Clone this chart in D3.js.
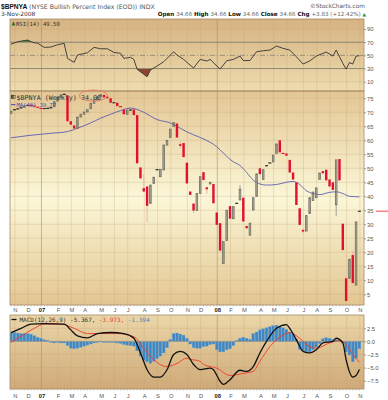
<!DOCTYPE html>
<html>
<head>
<meta charset="utf-8">
<script src="https://cdn.jsdelivr.net/npm/d3@7/dist/d3.min.js"></script>
<style>
  body { margin: 0; background: #fff; }
  svg { display: block; }
</style>
</head>
<body>
<script>

// weekly bars, mondays from 30-Oct-2006 to 3-Nov-2008
var weeks = d3.timeMonday.range(new Date(2006, 9, 30), new Date(2008, 10, 4));

var opens = [69.6,70.8,71.0,71.4,71.8,72.3,72.6,72.4,72.0,71.6,
  71.2,71.4,71.4,72.0,74.0,75.4,76.2,76.0,66.8,65.3,
  64.2,68.3,69.3,70.1,71.3,73.2,74.4,75.6,76.2,75.6,
  75.0,73.4,73.4,72.0,71.0,69.3,70.8,71.0,69.0,50.3,
  42.9,43.5,37.5,44.6,49.5,47.0,49.4,58.3,61.0,64.9,
  66.0,58.6,59.0,52.0,41.7,37.4,34.9,41.0,48.6,43.2,
  44.4,44.4,34.2,30.4,16.0,24.2,36.5,32.0,37.4,38.7,
  39.5,29.4,26.1,35.1,40.0,50.0,46.0,50.8,51.8,52.3,
  55.3,60.0,55.2,55.3,53.0,48.5,45.0,35.7,28.0,27.6,
  33.9,38.5,39.5,46.0,49.0,49.5,46.0,45.0,37.0,53.3,
  30.2,10.7,10.7,19.0,8.3,34.66];
var highs = [70.4,71.0,71.6,72.0,72.4,72.8,72.6,72.4,72.0,71.6,
  71.4,71.5,72.0,74.0,75.6,76.4,76.8,76.0,66.8,65.3,
  68.3,69.3,70.1,70.9,73.2,74.4,75.6,76.3,76.2,75.6,
  75.0,73.6,73.4,72.2,71.0,70.8,71.0,71.0,69.0,50.3,
  47.8,43.5,44.0,46.8,49.7,49.6,58.3,59.9,64.0,66.3,
  66.0,59.2,59.0,52.0,41.7,37.4,41.0,47.0,48.6,43.2,
  45.0,44.4,34.2,30.4,23.8,35.0,36.5,36.3,37.6,44.0,
  39.5,29.4,30.4,39.5,48.0,50.0,49.5,51.0,52.0,54.7,
  58.7,60.0,55.4,55.3,53.0,48.5,45.0,35.7,28.4,33.1,
  39.5,41.5,43.0,48.3,49.0,49.5,46.0,45.0,53.0,53.3,
  30.2,10.7,17.5,20.5,31.0,34.66];
var lows = [69.6,70.6,71.0,71.4,71.8,72.3,72.2,71.8,71.6,70.0,
  71.2,71.4,71.4,72.0,74.0,75.4,76.2,66.8,65.4,63.4,
  64.2,68.3,69.3,70.1,71.3,73.2,74.4,75.6,75.3,75.0,
  73.4,73.4,72.2,72.0,69.3,69.3,70.6,69.0,51.8,46.4,
  41.7,30.8,37.5,44.6,49.3,47.0,49.4,58.3,61.0,64.9,
  61.0,57.4,54.0,44.6,40.5,34.0,34.9,41.0,45.8,41.0,
  44.4,37.5,29.8,20.6,16.0,24.2,32.0,32.0,37.4,38.7,
  31.0,28.4,26.1,35.1,40.0,47.9,46.0,50.8,51.8,52.3,
  55.3,55.7,55.2,54.5,48.5,46.0,36.9,29.8,26.8,27.6,
  33.9,38.5,39.5,46.0,48.2,45.7,43.5,42.3,33.0,45.7,
  20.8,2.6,10.7,9.0,8.3,34.66];
var closes = [70.4,71.0,71.4,71.8,72.3,72.6,72.4,72.0,71.6,71.2,
  71.4,71.4,71.8,73.8,75.4,76.2,76.6,66.8,65.6,64.2,
  68.3,69.3,70.1,70.9,73.2,74.4,75.6,76.3,75.3,75.0,
  73.4,73.4,72.2,72.0,69.3,70.8,70.8,69.0,51.8,46.4,
  41.7,36.6,44.0,46.8,49.5,49.6,58.3,59.9,64.0,66.3,
  61.0,58.0,54.0,44.6,40.5,34.9,41.0,47.0,45.8,42.5,
  45.0,37.5,29.8,20.6,23.8,35.0,32.0,36.3,37.6,42.5,
  31.0,28.6,30.4,39.5,48.0,47.9,49.5,51.0,52.0,54.7,
  58.7,55.7,55.4,54.5,48.5,46.0,36.9,29.8,27.4,33.1,
  39.5,41.5,43.0,48.3,48.2,45.7,43.5,42.3,53.0,45.7,
  20.8,2.6,17.5,9.0,30.83,34.66];

// MA(40)
var maWeek  = [0,6,12,17,20,24,27,30,33,36,38,40,44,48,51,53,57,60,62,64,67,69,71,73,75,77,80,83,85,87,89,91,93,96,98,100,102,105];
var maValue = [60.9,61.8,62.5,63.1,64.3,66.2,67.9,69.3,70.6,71.5,71.0,70.0,67.4,66.2,64.3,63.0,61.0,59.3,57.7,55.4,52.3,51.0,48.5,45.8,44.4,44.0,44.2,45.0,45.3,44.2,42.0,41.0,40.6,41.4,41.6,41.0,40.0,39.8];

// RSI(14)
var rsiWeek  = [0,2,4,5,6,7,8,10,12,14,16,17,19,20,23,25,27,29,31,33,34,36,37,38,41,42,44,46,49,50,52,55,57,59,60,63,65,67,69,70,72,74,76,78,80,82,84,86,88,90,92,94,95,97,98,99,100,101,102,103,104,105];
var rsiValue = [67.1,70.6,72.5,73.2,70.8,69.1,68.6,62.1,62.6,66.1,68.2,45.4,39.4,50.5,54,62.1,60,60,54.5,53,45.4,47,43.9,28.8,17.6,27.7,33.8,40.3,55.5,50.5,43.9,30.8,43.9,41.4,43.9,29.2,41.8,43.9,48.9,42.1,42.1,55.5,57,58,64.1,60.6,58,47.9,36.8,41.4,48.9,53,55,48.9,58,47.9,37.9,29.2,39,36.8,48.9,49.5];

// MACD(12,26,9)
var macdWeek  = [0,3,6,10,16,18,20,23,26,30,34,37,39,41,43,45,47,49,51,53,55,57,60,61,63,64,66,69,71,73,75,77,80,83,84,86,88,90,92,94,97,98,100,101,103,104,105];
var macdValue = [1.66,2.5,3.3,3.4,3.3,2.2,1.04,0.66,1.5,1.7,1.5,0.6,-2.2,-5.4,-6.8,-6.8,-5.4,-2.5,-1.9,-2.5,-4.4,-5.4,-5.1,-5.4,-7.6,-8.2,-7.3,-5.5,-5.7,-4.8,-2.2,0,2.5,3.2,2.5,0.3,-1.9,-2.2,-1.6,-0.3,0,0.6,-0.3,-3.5,-6.8,-6.5,-5.37];
var signalWeek  = [0,3,7,10,15,19,23,27,32,37,40,43,47,50,53,54,57,58,62,66,70,73,75,78,82,84,87,90,92,96,99,101,103,105];
var signalValue = [-0.2,1.0,2.5,3.3,3.3,2.5,1.5,1.5,1.5,0.9,-1.3,-3.5,-4.8,-4.2,-3.2,-3.4,-3.8,-4.4,-5.1,-6.5,-6.1,-5.7,-3.8,-1.0,1.2,1.7,0.6,-1.0,-1.3,-0.3,0.15,-0.6,-2.5,-3.97];
var histValue = [1.7,1.7,1.6,1.5,1.5,1.5,1.4,1.1,0.8,0.6,
  0.3,0.2,-0.2,-0.3,-0.2,-0.3,-0.3,-0.8,-1.3,-1.4,
  -1.3,-1.1,-0.9,-0.7,-0.5,-0.3,-0.2,-0.1,-0.2,-0.2,
  -0.2,-0.2,-0.3,-0.4,-0.6,-0.7,-0.8,-0.9,-1.8,-2.8,
  -3.6,-3.9,-4.2,-3.8,-3.3,-2.8,-2.2,-1.2,0.4,1.5,
  1.6,1.4,1.2,0.6,-0.5,-1.2,-1.3,-1.3,-1.0,-0.9,
  -0.6,-0.5,-1.6,-2.0,-2.0,-1.6,-1.4,-0.8,0.2,0.6,
  0.8,0.6,0.4,1.5,1.8,2.2,2.4,2.6,2.8,3.0,
  3.1,2.9,2.6,2.3,1.8,1.4,0.5,-1.5,-1.8,-2.0,
  -2.0,-1.6,-1.1,-0.4,0.5,0.7,0.6,0.4,0.3,0.2,
  -0.3,-2.0,-2.6,-3.9,-3.2,-1.4];

var rsiTicks = [90,70,50,30,10];
var priceTicks = [75,70,65,60,55,50,45,40,35,30,25,20,15,10,5];
var macdTicks = [2.5,0,-2.5,-5,-7.5];
var lastPrice = 34.66;

var width = 388, height = 400;
var left = 10, right = 364;
var rsiTop = 19, rsiBottom = 91, priceTop = 91, priceBottom = 305, macdTop = 315, macdBottom = 389;

var red = "#e0102e";
var sans = "'Liberation Sans', Arial, sans-serif";
var mono = "'DejaVu Sans Mono', monospace";

var x = d3.scaleLinear().domain([0, 105]).range([11.1, 359.4]);
var yR = d3.scaleLinear().domain([-4.1, 105.2]).range([rsiBottom, rsiTop]);
var yP = d3.scaleLinear().domain([1.18, 77.6]).range([priceBottom, priceTop]);
var yM = d3.scaleLinear().domain([-9.08, 5.04]).range([macdBottom, macdTop]);

// first bar of each month
var monthIdx = d3.range(1, weeks.length).filter(function(i){
  return weeks[i].getMonth() != weeks[i-1].getMonth();
});

var svg = d3.select("body").append("svg")
  .attr("width", width).attr("height", height)
  .style("font-family", "'DejaVu Sans', Verdana, sans-serif");

var defs = svg.append("defs");
function grad(id, stops){
  var g = defs.append("linearGradient").attr("id", id)
    .attr("x1", 0).attr("y1", 0).attr("x2", 0).attr("y2", 1);
  stops.forEach(function(s){ g.append("stop").attr("offset", s[0]).attr("stop-color", s[1]); });
}
grad("gRsi", [[0,"#d6b382"],[1,"#eedcae"]]);
grad("gPrice", [[0,"#e3c693"],[0.5,"#fbf7d8"],[1,"#e3c691"]]);
grad("gMacd", [[0,"#ebd6a8"],[1,"#cfaa78"]]);

function clip(id, y0, y1){
  defs.append("clipPath").attr("id", id).append("rect")
    .attr("x", left).attr("y", y0).attr("width", right - left).attr("height", y1 - y0);
}
clip("cRsi", rsiTop, rsiBottom);
clip("cPrice", priceTop, priceBottom);
clip("cMacd", macdTop, macdBottom);
clip("cRsiHi", rsiTop, yR(70));
clip("cRsiLo", yR(30), rsiBottom);

function panel(top, bottom, gradId, yScale, ticks, gridTicks, fmt){
  var g = svg.append("g");
  g.append("rect").attr("x", left).attr("y", top)
    .attr("width", right - left).attr("height", bottom - top)
    .attr("fill", "url(#" + gradId + ")");
  g.selectAll(".hg").data(gridTicks).enter().append("line")
    .attr("x1", left).attr("x2", right)
    .attr("y1", function(d){ return yScale(d); }).attr("y2", function(d){ return yScale(d); })
    .attr("stroke", "#c2a374").attr("stroke-opacity", 0.4).attr("stroke-width", 0.7);
  g.selectAll(".vg").data(monthIdx).enter().append("line")
    .attr("x1", function(d){ return x(d) + 0.5; }).attr("x2", function(d){ return x(d) + 0.5; })
    .attr("y1", top).attr("y2", bottom)
    .attr("stroke", function(d){ return weeks[d].getMonth() == 0 ? "#a88a5e" : "#c2a374"; })
    .attr("stroke-opacity", function(d){ return weeks[d].getMonth() == 0 ? 0.8 : 0.4; })
    .attr("stroke-width", 0.7);

  var ax = svg.append("g").attr("transform", "translate(" + right + ",0)")
    .call(d3.axisRight(yScale).tickValues(ticks).tickSize(2).tickFormat(fmt));
  ax.select(".domain").remove();
  ax.selectAll("line").attr("stroke", "#999");
  ax.selectAll("text").attr("x", 3).attr("fill", "#555")
    .style("font-size", "5.8px").style("font-family", sans);
  return g;
}

panel(rsiTop, rsiBottom, "gRsi", yR, rsiTicks, [90, 10], d3.format("d"));
panel(priceTop, priceBottom, "gPrice", yP, priceTicks, priceTicks, d3.format("d"));
panel(macdTop, macdBottom, "gMacd", yM, macdTicks, [2.5, -2.5, -5, -7.5], d3.format(".1f"));

// ---------- RSI ----------
var rsiPts = rsiWeek.map(function(w, k){ return [w, rsiValue[k]]; });
var rsiG = svg.append("g").attr("clip-path", "url(#cRsi)");
rsiG.append("path").datum(rsiPts).attr("clip-path", "url(#cRsiHi)")
  .attr("fill", "#4b7a2e")
  .attr("d", d3.area().x(function(d){ return x(d[0]); }).y0(yR(70)).y1(function(d){ return yR(d[1]); }));
rsiG.append("path").datum(rsiPts).attr("clip-path", "url(#cRsiLo)")
  .attr("fill", "#8c4430")
  .attr("d", d3.area().x(function(d){ return x(d[0]); }).y0(yR(30)).y1(function(d){ return yR(d[1]); }));
[70, 30].forEach(function(v){
  rsiG.append("line").attr("x1", left).attr("x2", right).attr("y1", yR(v)).attr("y2", yR(v))
    .attr("stroke", "#8a8374").attr("stroke-width", 0.9);
});
rsiG.append("line").attr("x1", left).attr("x2", right).attr("y1", yR(50)).attr("y2", yR(50))
  .attr("stroke", "#8a8374").attr("stroke-width", 0.8).attr("stroke-dasharray", "5,2,1,2");
rsiG.append("path").datum(rsiPts).attr("fill", "none")
  .attr("stroke", "#333").attr("stroke-width", 0.9)
  .attr("d", d3.line().x(function(d){ return x(d[0]); }).y(function(d){ return yR(d[1]); }));

// ---------- price ----------
var bw = 2.4;
var candles = d3.range(weeks.length).map(function(i){
  return {i: i, o: opens[i], h: highs[i], l: lows[i], c: closes[i], pc: i ? closes[i-1] : opens[i]};
});
var priceG = svg.append("g").attr("clip-path", "url(#cPrice)");

priceG.append("path").datum(maWeek.map(function(w, k){ return [w, maValue[k]]; }))
  .attr("fill", "none").attr("stroke", "#5b5bb0").attr("stroke-width", 0.9)
  .attr("d", d3.line().curve(d3.curveMonotoneX)
    .x(function(d){ return x(d[0]); }).y(function(d){ return yP(d[1]); }));

var cg = priceG.selectAll(".candle").data(candles).enter().append("g");
cg.append("line")
  .attr("x1", function(d){ return x(d.i); }).attr("x2", function(d){ return x(d.i); })
  .attr("y1", function(d){ return yP(d.h); }).attr("y2", function(d){ return yP(d.l); })
  .attr("stroke", function(d){ return d.c < d.pc ? "#f2a0a0" : "#8a8a80"; })
  .attr("stroke-width", 0.8);
cg.each(function(d){
  var g = d3.select(this);
  var col = d.c < d.pc ? red : "#222";
  var y0 = yP(Math.max(d.o, d.c)), y1 = yP(Math.min(d.o, d.c));
  if (y1 - y0 < 1.2) {
    g.append("line").attr("x1", x(d.i) - bw/2 - 0.3).attr("x2", x(d.i) + bw/2 + 0.3)
      .attr("y1", (y0 + y1)/2).attr("y2", (y0 + y1)/2)
      .attr("stroke", col).attr("stroke-width", 1.1);
  } else if (d.c < d.o) {
    g.append("rect").attr("x", x(d.i) - bw/2).attr("y", y0)
      .attr("width", bw).attr("height", y1 - y0).attr("fill", col);
  } else {
    g.append("rect").attr("x", x(d.i) - bw/2 + 0.4).attr("y", y0)
      .attr("width", bw - 0.8).attr("height", y1 - y0)
      .attr("fill", "none").attr("stroke", d.c < d.pc ? red : "#6b6b60").attr("stroke-width", 0.8);
  }
});

// last price marker
svg.append("line").attr("x1", 376).attr("x2", 388)
  .attr("y1", yP(lastPrice)).attr("y2", yP(lastPrice))
  .attr("stroke", "#f08a8a").attr("stroke-width", 1.6);

// ---------- MACD ----------
var macdG = svg.append("g").attr("clip-path", "url(#cMacd)");
macdG.selectAll(".hist").data(histValue).enter().append("rect")
  .attr("x", function(d, i){ return x(i) - 1.4; })
  .attr("y", function(d){ return Math.min(yM(d), yM(0)); })
  .attr("width", 2.8)
  .attr("height", function(d){ return Math.abs(yM(d) - yM(0)); })
  .attr("fill", "#3f88c4").attr("stroke", "#6aa4d2").attr("stroke-width", 0.3);
macdG.append("line").attr("x1", left).attr("x2", right).attr("y1", yM(0)).attr("y2", yM(0))
  .attr("stroke", "#9a9488").attr("stroke-width", 0.8);
var mline = d3.line().curve(d3.curveMonotoneX)
  .x(function(d){ return x(d[0]); }).y(function(d){ return yM(d[1]); });
macdG.append("path").datum(signalWeek.map(function(w, k){ return [w, signalValue[k]]; }))
  .attr("fill", "none").attr("stroke", "#f03a2a").attr("stroke-width", 0.9).attr("d", mline);
macdG.append("path").datum(macdWeek.map(function(w, k){ return [w, macdValue[k]]; }))
  .attr("fill", "none").attr("stroke", "#111").attr("stroke-width", 1.3).attr("d", mline);

// frames
[[rsiTop, rsiBottom], [priceTop, priceBottom], [macdTop, macdBottom]].forEach(function(p){
  svg.append("rect").attr("x", left).attr("y", p[0]).attr("width", right - left).attr("height", p[1] - p[0])
    .attr("fill", "none").attr("stroke", "#a58a68").attr("stroke-width", 0.8);
});

// week ticks and month labels under price and macd panels
[[priceBottom, 312], [macdBottom, 397.5]].forEach(function(p){
  svg.append("g").selectAll("line").data(weeks).enter().append("line")
    .attr("x1", function(d, i){ return x(i); }).attr("x2", function(d, i){ return x(i); })
    .attr("y1", p[0]).attr("y2", p[0] + 1.5)
    .attr("stroke", "#999").attr("stroke-width", 0.5);
  svg.append("g").selectAll("text").data(monthIdx).enter().append("text")
    .attr("x", function(d){ return x(d) + 1; }).attr("y", p[1])
    .attr("text-anchor", "middle")
    .style("font-family", sans).style("font-size", "5.8px")
    .style("font-weight", function(d){ return weeks[d].getMonth() == 0 ? "bold" : "normal"; })
    .attr("fill", function(d){ return weeks[d].getMonth() == 0 ? "#222" : "#555"; })
    .text(function(d){
      return weeks[d].getMonth() == 0 ? d3.timeFormat("%y")(weeks[d]) : d3.timeFormat("%b")(weeks[d]).charAt(0);
    });
});

// ---------- header ----------
var title = svg.append("text").attr("x", 1).attr("y", 8.5)
  .style("font-size", "6.2px").attr("fill", "#555");
title.append("tspan").text("$BPNYA").style("font-family", sans)
  .style("font-weight", "bold").style("font-size", "6.6px").attr("fill", "#111");
title.append("tspan").text(" (NYSE Bullish Percent Index (EOD)) INDX");

svg.append("text").attr("x", 1).attr("y", 16.3).style("font-size", "5.9px").attr("fill", "#333")
  .text("3-Nov-2008");
svg.append("text").attr("x", 365).attr("y", 8.3).attr("text-anchor", "end")
  .style("font-size", "5.8px").attr("fill", "#555").text("\u00A9StockCharts.com");

var quote = svg.append("text").attr("x", 366).attr("y", 16.3).attr("text-anchor", "end")
  .style("font-size", "5.6px").attr("fill", "#666");
[["Open ", true], ["34.66 ", false], ["High ", true], ["34.66 ", false], ["Low ", true], ["34.66 ", false],
 ["Close ", true], ["34.66 ", false], ["Chg ", true], ["+3.83 (+12.42%) ", false]].forEach(function(p){
  quote.append("tspan").text(p[0])
    .style("font-weight", p[1] ? "bold" : "normal").attr("fill", p[1] ? "#111" : "#666");
});
quote.append("tspan").text("\u25B2").attr("fill", "#2f8a2f").style("font-size", "4.5px");

// ---------- legends ----------
svg.append("path").attr("d", "M11.5,25.5 L13.5,21.3 L15.5,25.5 Z").attr("fill", "#3c6e2a");
svg.append("text").attr("x", 16).attr("y", 25.6).style("font-family", mono).style("font-size", "5.6px")
  .attr("fill", "#333").text("RSI(14) 49.50");

svg.append("rect").attr("x", 11.2).attr("y", 94.8).attr("width", 1.5).attr("height", 4).attr("fill", "#222");
svg.append("rect").attr("x", 13.6).attr("y", 95.6).attr("width", 1.5).attr("height", 3).attr("fill", "none")
  .attr("stroke", "#222").attr("stroke-width", 0.5);
svg.append("text").attr("x", 16.5).attr("y", 99.6).style("font-family", mono).style("font-size", "6.7px")
  .attr("fill", "#333").text("$BPNYA (Weekly) 34.66");
svg.append("ellipse").attr("cx", 93.3).attr("cy", 95.6).attr("rx", 14).attr("ry", 5.6)
  .attr("fill", "none").attr("stroke", "#e8786a").attr("stroke-width", 0.9);

svg.append("line").attr("x1", 11).attr("x2", 15.5).attr("y1", 104.6).attr("y2", 104.6)
  .attr("stroke", "#5b5bb0").attr("stroke-width", 1.2);
svg.append("text").attr("x", 16.5).attr("y", 107).style("font-family", mono).style("font-size", "5.5px")
  .attr("fill", "#4a4aa8").text("MA(40) 39.77");

svg.append("line").attr("x1", 11.5).attr("x2", 16.5).attr("y1", 319.5).attr("y2", 319.5)
  .attr("stroke", "#111").attr("stroke-width", 1.3);
var ml = svg.append("text").attr("x", 19.5).attr("y", 321.6).style("font-family", mono).style("font-size", "6px");
ml.append("tspan").text("MACD(12,26,9) -5.367, ").attr("fill", "#333");
ml.append("tspan").text("-3.973, ").attr("fill", "#e8402a");
ml.append("tspan").text("-1.394").attr("fill", "#4a88c0");

</script>
</body>
</html>
